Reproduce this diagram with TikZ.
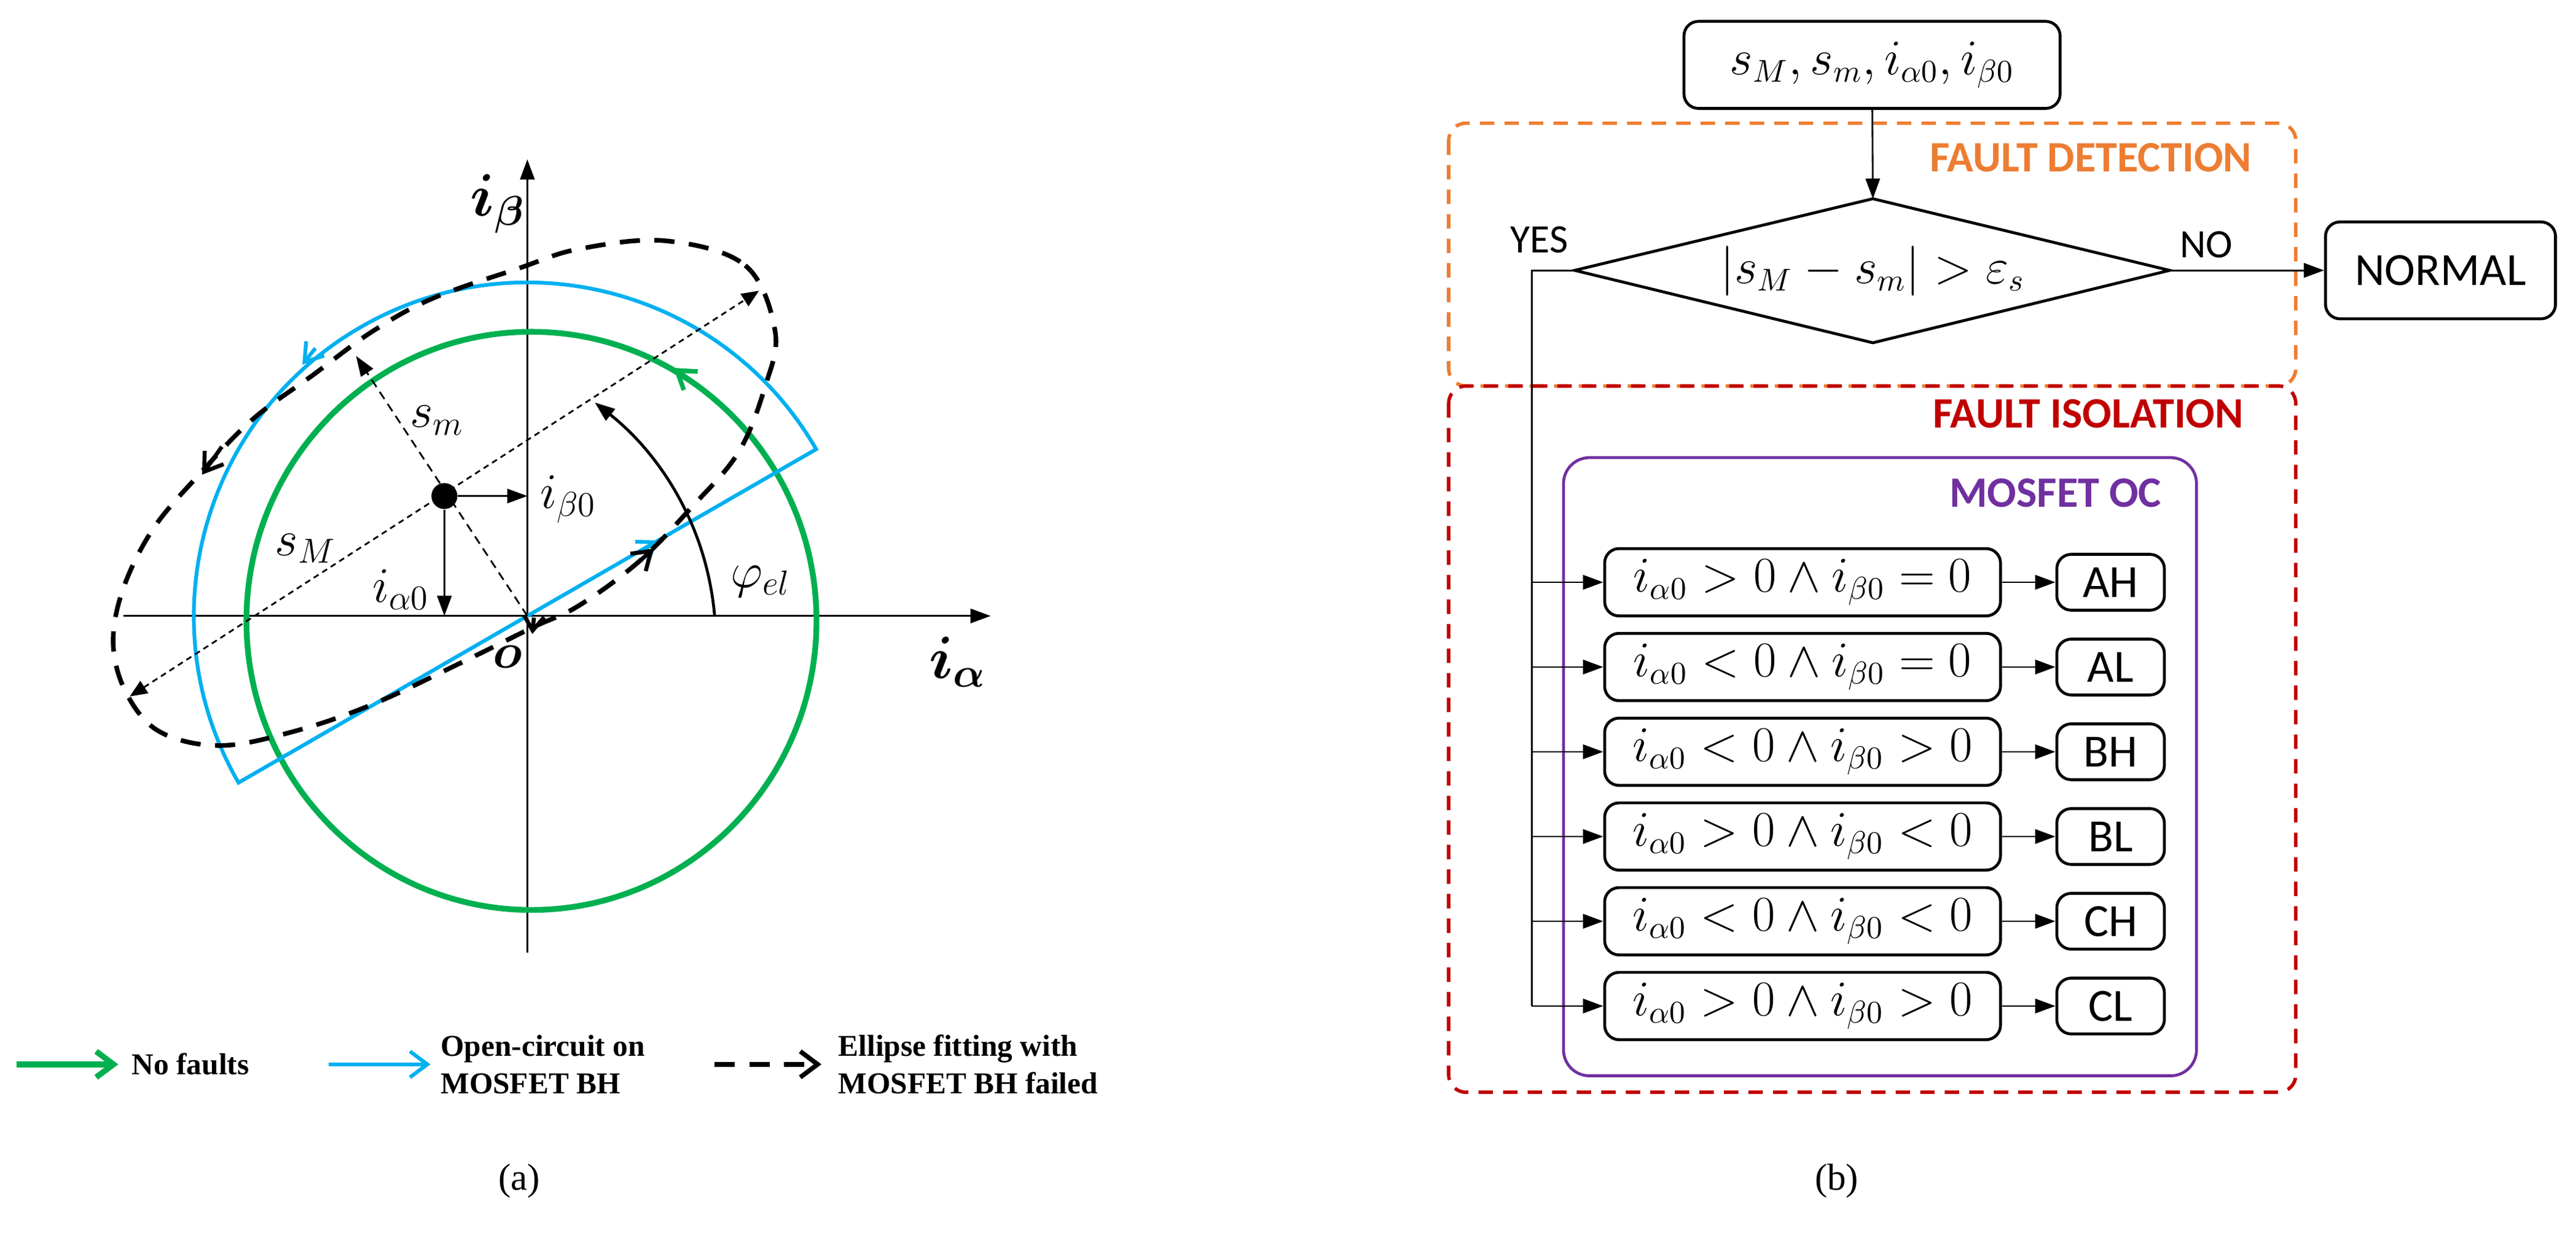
\documentclass[tikz,border=0pt]{standalone}
\usepackage{fontspec}
\usepackage{amsmath,bm}
\setmainfont{Liberation Serif}
\newfontfamily\carl{Carlito}
\usetikzlibrary{arrows.meta}
\definecolor{gr}{RGB}{0,176,80}
\definecolor{bl}{RGB}{0,176,240}
\definecolor{org}{RGB}{237,125,49}
\definecolor{rd}{RGB}{192,0,0}
\definecolor{pu}{RGB}{112,48,160}
\begin{document}
\begin{tikzpicture}[x=0.02cm,y=-0.02cm,
  ar/.style={-{Triangle[length=7pt,width=5pt]}},
  thinl/.style={line width=0.6pt},
  lab/.style={font=\fontsize{17}{20}\selectfont,inner sep=0pt},
  fbox/.style={draw,rounded corners=5pt,line width=1pt,font=\carl\fontsize{16}{19}\selectfont,inner sep=0pt},
  ttl/.style={font=\carl\bfseries\fontsize{15}{18}\selectfont,anchor=east,inner sep=0pt},
  leg/.style={font=\bfseries\fontsize{10.5}{13}\selectfont,align=left,anchor=west,inner sep=0pt}]
\useasboundingbox (0,0) rectangle (1568,758);
% ---------------- (a) ----------------
\coordinate (O) at (321,375);
\coordinate (xs) at (75,375); \coordinate (xe) at (603,375);
\coordinate (ys) at (321,580); \coordinate (ye) at (321,97);
\draw[thinl,ar] (xs) -- (xe);
\draw[thinl,ar] (ys) -- (ye);
% green circle
\draw[gr,line width=2pt] (323.5,378) ellipse (173.5 and 176);
\draw[gr,line width=1.6pt,-{Straight Barb[length=6pt,width=8pt]}] (418,230) -- (410,224);
% blue half circle
\draw[bl,line width=1.3pt] (O) ++(-30:203) arc (-30:-210:203) -- cycle;
\draw[bl,line width=1.3pt,-{Straight Barb[length=6pt,width=8pt]}] (192,212) -- (184,222);
\draw[bl,line width=1.3pt,-{Straight Barb[length=6pt,width=8pt]}] (390,336) -- (401,329);
% dashed ellipse
\draw[line width=1.6pt,dash pattern=on 7pt off 5pt] plot[smooth cycle,tension=0.6] coordinates{
(405,146.6)(453.6,161.6)(471.8,201.7)(465.8,235.1)(449.6,275.2)(421.2,308.6)(388.8,342)(352.4,368.7)(324,382.1)(283.5,402.1)(226.8,428.8)(178.2,445.5)(133.7,453.9)(97.2,445.5)(77,422.2)(68.9,392.1)(74.9,358.7)(93.2,322)(121.5,288.6)(153.9,255.2)(190.4,228.4)(226.8,201.7)(263.3,181.7)(315.9,163.3)(352.4,151.6)};
\draw[line width=1.4pt,-{Straight Barb[length=6pt,width=8pt]}] (135,272) -- (123,289);
\draw[line width=1.4pt,-{Straight Barb[length=6pt,width=8pt]}] (390,341) -- (398,334);
\draw[line width=1.4pt,-{Straight Barb[length=5pt,width=7pt]}] (325,376) -- (324,386);
% axes of ellipse
\node[circle,fill,inner sep=0pt,minimum size=9pt] (ctr) at (270.5,302) {};
\coordinate (maj1) at (79,424); \coordinate (maj2) at (462,177);
\coordinate (mn) at (216.7,216.7);
\draw[thinl,dash pattern=on 2pt off 1.5pt,{Triangle[length=6pt,width=5pt]}-{Triangle[length=6pt,width=5pt]}] (maj1) -- (maj2);
\draw[thinl,dash pattern=on 3pt off 2pt,ar] (O) -- (mn);
\draw[thinl,ar] (ctr) -- (321,302);
\draw[thinl,ar] (ctr) -- (270.5,375);
\draw[line width=1pt,-{Triangle[length=7pt,width=5pt]}] (435,375) .. controls (430,318) and (400,275) .. (362,245);
\node[lab,font=\fontsize{21}{24}\selectfont] at (303,124) {$\bm{i_\beta}$};
\node[lab,font=\fontsize{21}{24}\selectfont] at (583,403) {$\bm{i_\alpha}$};
\node[lab,font=\fontsize{19}{22}\selectfont] at (309,400) {$\bm{o}$};
\node[lab] at (266,256) {$s_m$};
\node[lab] at (186,334) {$s_M$};
\node[lab] at (346,304) {$i_{\beta 0}$};
\node[lab] at (244,359) {$i_{\alpha 0}$};
\node[lab] at (463,354) {$\varphi_{el}$};
% legend
\coordinate (g1) at (10,648); \coordinate (g2) at (72,648);
\draw[gr,line width=2pt,-{Straight Barb[length=6pt,width=9pt]}] (g1) -- (g2);
\node[leg] at (80,648) {No faults};
\coordinate (b1) at (200,648); \coordinate (b2) at (262,648);
\draw[bl,line width=1.3pt,-{Straight Barb[length=6pt,width=9pt]}] (b1) -- (b2);
\node[leg] at (268,648) {Open-circuit on\\MOSFET BH};
\coordinate (k1) at (435,648); \coordinate (k2) at (500,648);
\draw[line width=1.6pt,dash pattern=on 7pt off 5pt,-{Straight Barb[length=6pt,width=9pt]}] (k1) -- (k2);
\node[leg] at (510,648) {Ellipse fitting with\\MOSFET BH failed};
\node[font=\fontsize{13}{15}\selectfont] at (316,719) {(a)};
\node[font=\fontsize{13}{15}\selectfont] at (1118,719) {(b)};
% ---------------- (b) ----------------
\draw[org,line width=1.2pt,dash pattern=on 5pt off 3.5pt,rounded corners=6pt] (881.8,75) rectangle (1397.4,235);
\draw[rd,line width=1.2pt,dash pattern=on 5pt off 3.5pt,rounded corners=6pt] (881.8,235) rectangle (1397.4,665);
\draw[pu,line width=1pt,rounded corners=9pt] (951.7,278.6) rectangle (1337,655);
\node[ttl,text=org] at (1371,96) {FAULT DETECTION};
\node[ttl,text=rd] at (1366,252) {FAULT ISOLATION};
\node[ttl,text=pu] at (1316,300) {MOSFET OC};
\node[fbox,minimum width=4.58cm,minimum height=1.06cm] (in) at (1139.5,39.5) {$s_M, s_m, i_{\alpha0}, i_{\beta0}$};
\coordinate (dT) at (1140,121); \coordinate (dB) at (1140,208.7);
\coordinate (dL) at (958.5,164.6); \coordinate (dR) at (1320.6,164.6);
\draw[line width=1pt] (dT) -- (dR) -- (dB) -- (dL) -- cycle;
\node[font=\fontsize{16}{19}\selectfont] (cond) at (1140,165) {$|s_M - s_m| > \varepsilon_s$};
\node[fbox,minimum width=2.8cm,minimum height=1.18cm] (nor) at (1485.5,164.6) {NORMAL};
\draw[thinl,ar] (in) -- (dT);
\draw[thinl,ar] (dR) -- (nor);
\node[font=\carl\fontsize{14}{17}\selectfont] at (937,146) {YES};
\node[font=\carl\fontsize{14}{17}\selectfont] at (1343,149) {NO};
\coordinate (yc) at (932.3,164.6);
\coordinate (ybot) at (932.3,612.5);
\draw[thinl] (dL) -- (yc) -- (ybot);
\foreach \i/\t/\l in {0/{i_{\alpha0} > 0 \wedge i_{\beta0} = 0}/AH,
                      1/{i_{\alpha0} < 0 \wedge i_{\beta0} = 0}/AL,
                      2/{i_{\alpha0} < 0 \wedge i_{\beta0} > 0}/BH,
                      3/{i_{\alpha0} > 0 \wedge i_{\beta0} < 0}/BL,
                      4/{i_{\alpha0} < 0 \wedge i_{\beta0} < 0}/CH,
                      5/{i_{\alpha0} > 0 \wedge i_{\beta0} > 0}/CL}{
  \pgfmathsetmacro{\yy}{354.5+51.6*\i}
  \node[fbox,minimum width=4.82cm,minimum height=0.82cm] (c\i) at (1097.2,\yy) {$\t$};
  \node[fbox,minimum width=1.31cm,minimum height=0.68cm] (r\i) at (1284.7,\yy) {\l};
  \coordinate (y\i) at (932.3,\yy);
  \draw[thinl,ar] (y\i) -- (c\i);
  \draw[thinl,ar] (c\i) -- (r\i);
}
\end{tikzpicture}
\end{document}
